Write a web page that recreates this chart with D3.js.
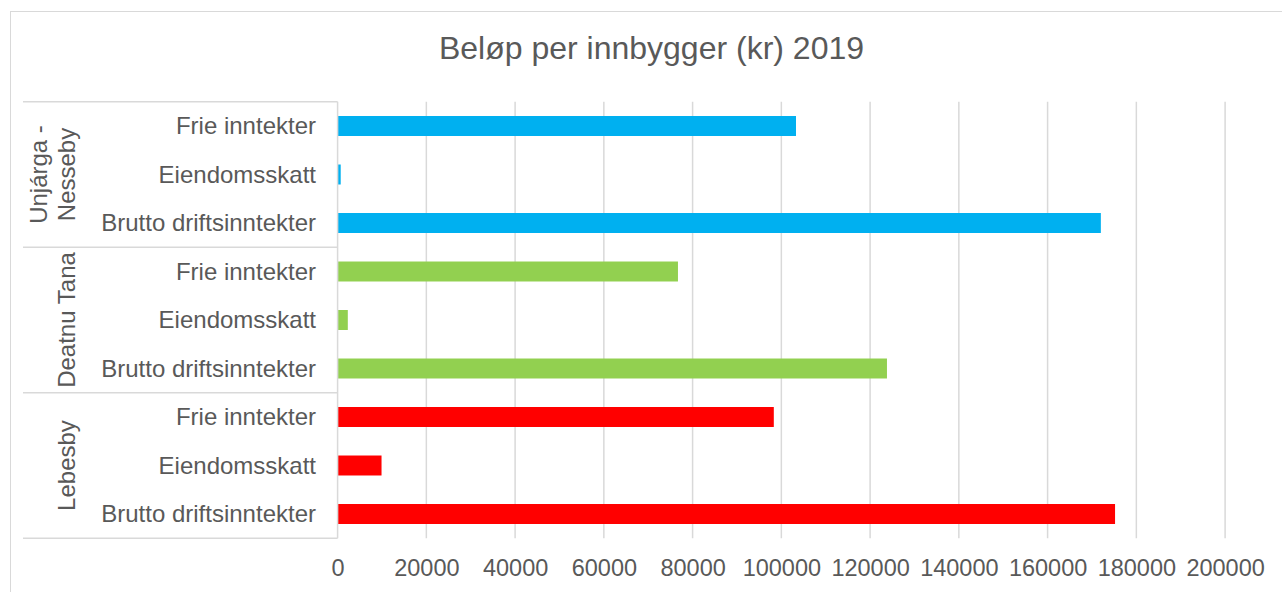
<!DOCTYPE html>
<html>
<head>
<meta charset="utf-8">
<script src="https://cdn.jsdelivr.net/npm/d3@7"></script>
<style>
  html, body { margin: 0; padding: 0; background: #fff; }
  svg { display: block; font-family: "Liberation Sans", Arial, sans-serif; }
</style>
</head>
<body>
<svg id="chart" width="1282" height="592"></svg>
<script>
// Municipalities (top to bottom) and the measures shown for each
const groups = ["Unjárga - Nesseby", "Deatnu Tana", "Lebesby"];
const groupLines = [["Unjárga -", "Nesseby"], ["Deatnu Tana"], ["Lebesby"]];
const measures = ["Frie inntekter", "Eiendomsskatt", "Brutto driftsinntekter"];
const groupColors = ["#00B0F0", "#92D050", "#FF0000"];

// kr per inhabitant, 2019, in the order of `measures`
const unjargaValues = [103300, 700, 172000];
const deatnuValues  = [76700, 2300, 123800];
const lebesbyValues = [98300, 9900, 175200];

const tickValues = [0, 20000, 40000, 60000, 80000, 100000, 120000, 140000, 160000, 180000, 200000];
const title = "Beløp per innbygger (kr) 2019";

const seriesValues = [unjargaValues, deatnuValues, lebesbyValues];
const rows = [];
groups.forEach((g, gi) => {
  measures.forEach((m, mi) => {
    rows.push({ key: gi + "|" + mi, group: g, gi, measure: m, value: seriesValues[gi][mi] });
  });
});

const svg = d3.select("#chart");
const W = 1282, H = 592;
const textColor = "#595959";
const gridColor = "#D9D9D9";

// outer chart frame
svg.append("rect")
  .attr("x", 10.5).attr("y", 11.5)
  .attr("width", W).attr("height", H)
  .attr("fill", "#fff").attr("stroke", gridColor).attr("stroke-width", 1);

// title
svg.append("text")
  .attr("x", 651.5).attr("y", 59)
  .attr("text-anchor", "middle")
  .attr("fill", textColor)
  .style("font-size", "32px")
  .text(title);

const plot = { left: 337.6, right: 1225.1, top: 101.75, bottom: 538.25 };

const x = d3.scaleLinear().domain([0, 200000]).range([plot.left, plot.right]);
const y = d3.scaleBand()
  .domain(rows.map(r => r.key))
  .range([plot.top, plot.bottom])
  .paddingInner(0.588)
  .paddingOuter(0.294);

// vertical gridlines
svg.append("g")
  .selectAll("line")
  .data(tickValues.slice(1))
  .join("line")
  .attr("x1", d => x(d)).attr("x2", d => x(d))
  .attr("y1", plot.top).attr("y2", plot.bottom)
  .attr("stroke", gridColor).attr("stroke-width", 1.5);

// bars
svg.append("g")
  .selectAll("rect")
  .data(rows)
  .join("rect")
  .attr("x", x(0))
  .attr("y", d => y(d.key))
  .attr("width", d => x(d.value) - x(0))
  .attr("height", y.bandwidth())
  .attr("fill", d => groupColors[d.gi]);

// category axis line
svg.append("line")
  .attr("x1", plot.left).attr("x2", plot.left)
  .attr("y1", plot.top).attr("y2", plot.bottom)
  .attr("stroke", gridColor).attr("stroke-width", 1.5);

// group separators of the two-level category axis
const groupSpan = (plot.bottom - plot.top) / groups.length;
const sepY = d3.range(groups.length + 1).map(i => plot.top + i * groupSpan);
svg.append("g")
  .selectAll("line")
  .data(sepY)
  .join("line")
  .attr("x1", 23).attr("x2", plot.left)
  .attr("y1", d => d).attr("y2", d => d)
  .attr("stroke", gridColor).attr("stroke-width", 1.5);

// measure labels
svg.append("g")
  .selectAll("text")
  .data(rows)
  .join("text")
  .attr("x", 316)
  .attr("y", d => y(d.key) + y.bandwidth() / 2 + 8)
  .attr("text-anchor", "end")
  .attr("fill", textColor)
  .style("font-size", "24px")
  .text(d => d.measure);

// municipality labels, rotated
const lineGap = 28;
groupLines.forEach((lines, gi) => {
  const cy = plot.top + (gi + 0.5) * groupSpan;
  const t = svg.append("text")
    .attr("transform", `translate(75,${cy}) rotate(-90)`)
    .attr("text-anchor", "middle")
    .attr("fill", textColor)
    .style("font-size", "24px");
  lines.forEach((ln, li) => {
    t.append("tspan")
      .attr("x", 0)
      .attr("y", -(lines.length - 1 - li) * lineGap)
      .text(ln);
  });
});

// value axis
const xAxis = d3.axisBottom(x)
  .tickValues(tickValues)
  .tickSize(0)
  .tickFormat(d3.format("d"));
const ax = svg.append("g")
  .attr("transform", `translate(0,${plot.bottom})`)
  .call(xAxis);
ax.select(".domain").remove();
ax.selectAll("text")
  .attr("y", 37.5)
  .attr("dy", 0)
  .attr("fill", textColor)
  .style("font-size", "23.5px")
  .style("font-family", "\"Liberation Sans\", Arial, sans-serif");
</script>
</body>
</html>
